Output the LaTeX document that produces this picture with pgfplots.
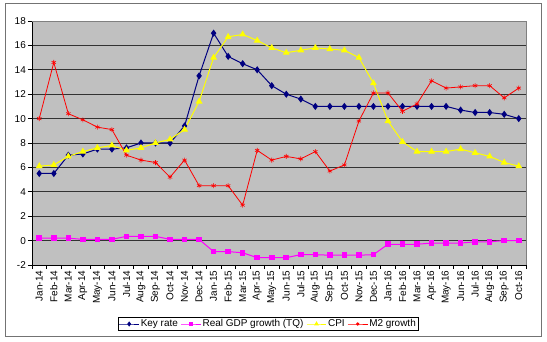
\documentclass[border=0pt]{standalone}
\usepackage{fontspec}
\setmainfont{Liberation Sans}
\usepackage{pgfplots}
\usepackage{pgfplotstable}
\pgfplotsset{compat=1.18}
\definecolor{keyc}{HTML}{000080}
\definecolor{gdpc}{HTML}{FF00FF}
\definecolor{cpic}{HTML}{FFFF00}
\definecolor{mtwo}{HTML}{FF0000}
\definecolor{plotbg}{HTML}{C0C0C0}
\pgfplotstableread{
i key gdp cpi m2
0 5.5 0.2 6.1 10.0
1 5.5 0.2 6.2 14.6
2 7.0 0.2 6.9 10.4
3 7.1 0.1 7.3 9.9
4 7.5 0.1 7.6 9.3
5 7.5 0.1 7.8 9.1
6 7.6 0.35 7.4 7.0
7 8.0 0.35 7.6 6.6
8 8.0 0.35 8.0 6.4
9 8.0 0.1 8.3 5.2
10 9.4 0.1 9.1 6.6
11 13.5 0.1 11.4 4.5
12 17.0 -0.9 15.0 4.5
13 15.1 -0.9 16.7 4.5
14 14.5 -1.0 16.9 2.9
15 14.0 -1.4 16.4 7.4
16 12.7 -1.4 15.8 6.6
17 12.0 -1.4 15.4 6.9
18 11.6 -1.15 15.6 6.7
19 11.0 -1.15 15.8 7.3
20 11.0 -1.2 15.7 5.7
21 11.0 -1.2 15.6 6.2
22 11.0 -1.2 15.0 9.8
23 11.0 -1.15 12.9 12.1
24 11.0 -0.3 9.8 12.1
25 11.0 -0.3 8.1 10.6
26 11.0 -0.3 7.3 11.2
27 11.0 -0.2 7.3 13.1
28 11.0 -0.2 7.3 12.5
29 10.7 -0.2 7.5 12.6
30 10.5 -0.1 7.2 12.7
31 10.5 -0.1 6.9 12.7
32 10.35 0.0 6.4 11.7
33 10.0 0.0 6.1 12.5
}\datatable
\begin{document}
\begin{tikzpicture}
\useasboundingbox (0,0) rectangle (547bp,342bp);
\fill[white] (0,0) rectangle (547bp,342bp);
\draw[black!55, line width=1bp] (5bp,5.5bp) rectangle (541bp,338bp);
\begin{axis}[
  at={(32bp,77bp)}, anchor=south west,
  scale only axis, width=494bp, height=244bp,
  xmin=-0.5, xmax=33.5, ymin=-2, ymax=18,
  ytick={-2,0,...,18},
  xtick={0,...,33},
  xticklabels={Jan-14,Feb-14,Mar-14,Apr-14,May-14,Jun-14,Jul-14,Aug-14,Sep-14,Oct-14,Nov-14,Dec-14,Jan-15,Feb-15,Mar-15,Apr-15,May-15,Jun-15,Jul-15,Aug-15,Sep-15,Oct-15,Nov-15,Dec-15,Jan-16,Feb-16,Mar-16,Apr-16,May-16,Jun-16,Jul-16,Aug-16,Sep-16,Oct-16},
  minor xtick={-0.5,0.5,...,33.5},
  major x tick style={draw=none},
  minor tick length=4bp,
  major tick length=4bp,
  tick align=outside,
  tick style={black, line width=0.6bp},
  ytick pos=left, xtick pos=bottom,
  axis x line*=bottom, axis y line*=left,
  axis line style={black, line width=0.7bp},
  axis background/.style={fill=plotbg},
  ymajorgrids, grid style={black!80, line width=0.9bp},
  ticklabel style={font=\fontsize{10}{12}\selectfont},
  /pgf/number format/assume math mode=true,
  xticklabel style={rotate=90, anchor=east, inner sep=1.5bp},
  yticklabel style={inner sep=2bp},
  clip=false,
  legend style={at={(0.4775,-0.2418)}, anchor=center, draw=black, line width=0.6bp, fill=white,
    font=\fontsize{10}{12}\selectfont, inner sep=0.8bp, row sep=0pt,
    nodes={inner xsep=1.2bp, inner ysep=1.5bp},
    /tikz/every even column/.append style={column sep=1.5bp}},
  legend columns=4,
  legend image code/.code={\draw[mark repeat=2,mark phase=2,mark size=1.8bp] plot coordinates {(0cm,0cm) (0.35cm,0cm) (0.7cm,0cm)};},
]
\draw[black!50, line width=0.6bp] (rel axis cs:0,1) -- (rel axis cs:1,1) -- (rel axis cs:1,0);
\addplot[keyc, line width=1bp, mark=diamond*, mark size=2.8bp, mark options={solid, fill=keyc}] table[x=i,y=key] {\datatable};
\addlegendentry{Key rate}
\addplot[gdpc, line width=1bp, mark=square*, mark size=2.3bp, mark options={solid, fill=gdpc}] table[x=i,y=gdp] {\datatable};
\addlegendentry{Real GDP growth (TQ)}
\addplot[cpic, line width=1bp, mark=triangle*, mark size=3bp, mark options={solid, fill=cpic}] table[x=i,y=cpi] {\datatable};
\addlegendentry{CPI}
\addplot[mtwo, line width=0.8bp, mark=asterisk, mark size=2.5bp, mark options={solid, line width=0.6bp}] table[x=i,y=m2] {\datatable};
\addlegendentry{M2 growth}
\end{axis}
\end{tikzpicture}
\end{document}
